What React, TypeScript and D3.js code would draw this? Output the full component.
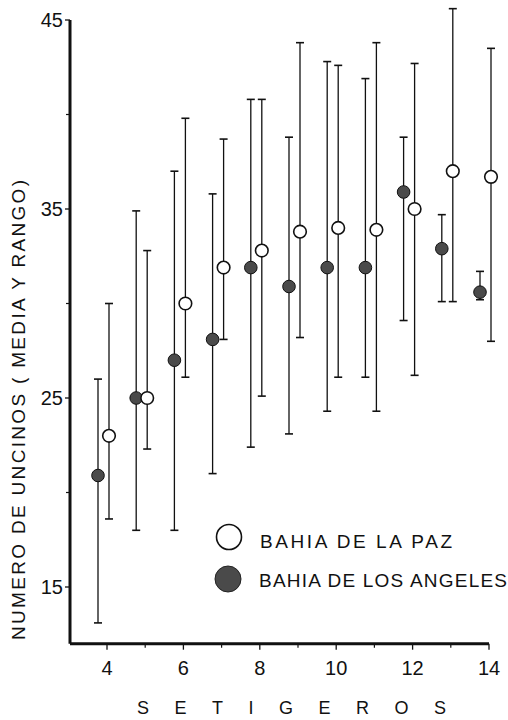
import React from 'react';
import * as d3 from 'd3';

// numero de setigeros (eje x)
const setigeros = [4, 5, 6, 7, 8, 9, 10, 11, 12, 13, 14];

// Bahia de La Paz (circulo abierto)
const pazMedia = [23.0, 25.0, 30.0, 31.9, 32.8, 33.8, 34.0, 33.9, 35.0, 37.0, 36.7];
const pazMin = [18.6, 22.3, 26.1, 28.1, 25.1, 28.2, 26.1, 24.3, 26.2, 30.1, 28.0];
const pazMax = [30.0, 32.8, 39.8, 38.7, 40.8, 43.8, 42.6, 43.8, 42.7, 45.6, 43.5];

// Bahia de Los Angeles (circulo lleno)
const angelesMedia = [20.9, 25.0, 27.0, 28.1, 31.9, 30.9, 31.9, 31.9, 35.9, 32.9, 30.6];
const angelesMin = [13.1, 18.0, 18.0, 21.0, 22.4, 23.1, 24.3, 26.1, 29.1, 30.1, 30.2];
const angelesMax = [26.0, 34.9, 37.0, 35.8, 40.8, 38.8, 42.8, 41.9, 38.8, 34.7, 31.7];

const yMajor = [15, 25, 35, 45];
const yMinor = [20, 30, 40];
const xMajor = [4, 6, 8, 10, 12, 14];
const xMinor = [5, 7, 9, 11, 13];

const legendLabels = ['BAHIA DE LA PAZ', 'BAHIA DE LOS ANGELES'];

const W = 508;
const H = 720;
const font = '"Liberation Sans", Arial, Helvetica, sans-serif';

export default function App() {
  const x = d3.scaleLinear().domain([4, 14]).range([107, 489]);
  const y = d3.scaleLinear().domain([15, 45]).range([587, 20]);
  const axisX = 70;
  const axisY = y(12);

  const series = [
    { media: angelesMedia, min: angelesMin, max: angelesMax, dx: -9, filled: true },
    { media: pazMedia, min: pazMin, max: pazMax, dx: 2, filled: false },
  ];

  return (
    <svg width={W} height={H} style={{ position: 'absolute', left: 0, top: 0, background: '#fff' }}>
      {/* eje y */}
      <line x1={axisX} x2={axisX} y1={y(45)} y2={axisY} stroke="#111" strokeWidth={3} />
      {yMajor.map(v => (
        <g key={'ym' + v}>
          <line x1={axisX - 5} x2={axisX} y1={y(v)} y2={y(v)} stroke="#111" strokeWidth={1.3} />
          <text x={63} y={y(v)} dy="0.36em" textAnchor="end" fontSize={20} fontFamily={font} fill="#111">
            {v}
          </text>
        </g>
      ))}
      {yMinor.map(v => (
        <line key={'yn' + v} x1={axisX - 4} x2={axisX} y1={y(v)} y2={y(v)} stroke="#111" strokeWidth={1.2} />
      ))}

      {/* eje x */}
      <line x1={axisX} x2={x(14)} y1={axisY} y2={axisY} stroke="#111" strokeWidth={3} />
      {xMajor.map(v => (
        <g key={'xm' + v}>
          <line x1={x(v)} x2={x(v)} y1={axisY} y2={axisY + 6} stroke="#111" strokeWidth={1.3} />
          <text x={x(v)} y={675} textAnchor="middle" fontSize={20} fontFamily={font} fill="#111">
            {v}
          </text>
        </g>
      ))}
      {xMinor.map(v => (
        <line key={'xn' + v} x1={x(v)} x2={x(v)} y1={axisY} y2={axisY + 4} stroke="#111" strokeWidth={1.2} />
      ))}

      {/* titulos */}
      <text
        transform="translate(25,410) rotate(-90)"
        textAnchor="middle"
        fontSize={19}
        fontFamily={font}
        fill="#111"
        textLength={460}
        lengthAdjust="spacing"
      >
        NUMERO DE UNCINOS ( MEDIA Y RANGO)
      </text>
      <text x={137} y={714} fontSize={18} fontFamily={font} fill="#111" textLength={309} lengthAdjust="spacing">
        SETIGEROS
      </text>

      {/* media y rango */}
      {series.map((s, si) => (
        <g key={'s' + si}>
          {setigeros.map((k, i) => {
            const cx = x(k) + s.dx;
            return (
              <g key={k}>
                <line x1={cx} x2={cx} y1={y(s.max[i])} y2={y(s.min[i])} stroke="#111" strokeWidth={1.3} />
                <line x1={cx - 4} x2={cx + 4} y1={y(s.max[i])} y2={y(s.max[i])} stroke="#111" strokeWidth={1.6} />
                <line x1={cx - 4} x2={cx + 4} y1={y(s.min[i])} y2={y(s.min[i])} stroke="#111" strokeWidth={1.6} />
                <circle
                  cx={cx}
                  cy={y(s.media[i])}
                  r={6.3}
                  fill={s.filled ? '#4a4a4a' : '#fff'}
                  stroke="#111"
                  strokeWidth={s.filled ? 1 : 1.6}
                />
              </g>
            );
          })}
        </g>
      ))}

      {/* leyenda */}
      <circle cx={229} cy={537} r={12.5} fill="#fff" stroke="#111" strokeWidth={1.6} />
      <circle cx={228} cy={579} r={13} fill="#4a4a4a" stroke="#222" strokeWidth={1} />
      <text x={260} y={548} fontSize={19} fontFamily={font} fill="#111" textLength={192} lengthAdjust="spacing">
        {legendLabels[0]}
      </text>
      <text x={259} y={587} fontSize={19} fontFamily={font} fill="#111" textLength={248} lengthAdjust="spacing">
        {legendLabels[1]}
      </text>
    </svg>
  );
}
